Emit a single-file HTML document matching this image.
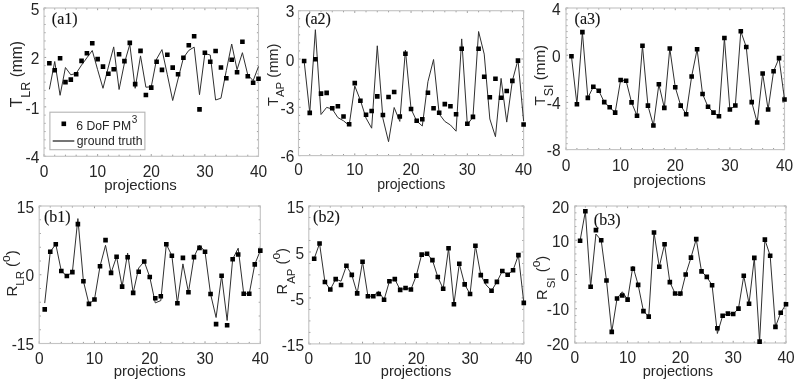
<!DOCTYPE html>
<html><head><meta charset="utf-8"><style>
html,body{margin:0;padding:0;background:#fff;}
svg{display:block;filter:grayscale(1) blur(0.35px);}
.t{font-family:"Liberation Sans", sans-serif;font-size:16px;fill:#262626;}
.y{font-family:"Liberation Sans", sans-serif;fill:#262626;}
.s{font-family:"Liberation Serif", serif;font-size:16px;fill:#111;stroke:#111;stroke-width:0.12px;}
.l{font-family:"Liberation Sans", sans-serif;font-size:12.2px;fill:#262626;}
</style></head><body>
<svg width="800" height="383" viewBox="0 0 800 383">
<rect width="800" height="383" fill="#fff"/>
<g id="a1"><path d="M44 156.3v-2.2M44 8v2.2M54.73 156.3v-1.6M54.73 8v1.6M65.45 156.3v-1.6M65.45 8v1.6M76.17 156.3v-1.6M76.17 8v1.6M86.9 156.3v-1.6M86.9 8v1.6M97.62 156.3v-2.2M97.62 8v2.2M108.35 156.3v-1.6M108.35 8v1.6M119.08 156.3v-1.6M119.08 8v1.6M129.8 156.3v-1.6M129.8 8v1.6M140.53 156.3v-1.6M140.53 8v1.6M151.25 156.3v-2.2M151.25 8v2.2M161.97 156.3v-1.6M161.97 8v1.6M172.7 156.3v-1.6M172.7 8v1.6M183.43 156.3v-1.6M183.43 8v1.6M194.15 156.3v-1.6M194.15 8v1.6M204.88 156.3v-2.2M204.88 8v2.2M215.6 156.3v-1.6M215.6 8v1.6M226.32 156.3v-1.6M226.32 8v1.6M237.05 156.3v-1.6M237.05 8v1.6M247.78 156.3v-1.6M247.78 8v1.6M258.5 156.3v-2.2M258.5 8v2.2M44 156.3h2.2M258.5 156.3h-2.2M44 148.06h1.6M258.5 148.06h-1.6M44 139.82h1.6M258.5 139.82h-1.6M44 131.58h1.6M258.5 131.58h-1.6M44 123.34h1.6M258.5 123.34h-1.6M44 115.11h1.6M258.5 115.11h-1.6M44 106.87h2.2M258.5 106.87h-2.2M44 98.63h1.6M258.5 98.63h-1.6M44 90.39h1.6M258.5 90.39h-1.6M44 82.15h1.6M258.5 82.15h-1.6M44 73.91h1.6M258.5 73.91h-1.6M44 65.67h1.6M258.5 65.67h-1.6M44 57.43h2.2M258.5 57.43h-2.2M44 49.19h1.6M258.5 49.19h-1.6M44 40.96h1.6M258.5 40.96h-1.6M44 32.72h1.6M258.5 32.72h-1.6M44 24.48h1.6M258.5 24.48h-1.6M44 16.24h1.6M258.5 16.24h-1.6M44 8h2.2M258.5 8h-2.2" stroke="#9a9a9a" stroke-width="1" fill="none"/>
<rect x="44" y="8" width="214.5" height="148.3" fill="none" stroke="#c4c4c4" stroke-width="1.15"/>
<polyline points="49.36,89.4 54.73,61.5 60.09,95.3 65.45,67.5 70.81,74.8 76.17,73.4 81.54,65.1 86.9,57.8 92.26,50.5 97.62,69.7 102.99,88.3 108.35,67 113.71,46.9 119.08,89.5 124.44,63 129.8,44.4 135.16,88.3 140.53,55.9 145.89,87.2 151.25,86.8 156.61,59 161.97,49.6 167.34,74.7 172.7,100.5 178.06,79 183.43,57.8 188.79,50.4 194.15,47.1 199.51,94.7 204.88,53.5 210.24,55 215.6,100 220.96,98.2 226.32,70.5 231.69,44 237.05,69.7 242.41,52.7 247.78,74.9 253.14,80.7 258.5,66.5" fill="none" stroke="#303030" stroke-width="1" stroke-linejoin="miter" stroke-miterlimit="10"/>
<path d="M47.06 61h4.6v4.6h-4.6zM52.43 68h4.6v4.6h-4.6zM57.79 55.9h4.6v4.6h-4.6zM63.15 79.8h4.6v4.6h-4.6zM68.51 77.3h4.6v4.6h-4.6zM73.88 72h4.6v4.6h-4.6zM79.24 58.6h4.6v4.6h-4.6zM84.6 51h4.6v4.6h-4.6zM89.96 40.9h4.6v4.6h-4.6zM95.33 56.8h4.6v4.6h-4.6zM100.69 64.3h4.6v4.6h-4.6zM106.05 71.4h4.6v4.6h-4.6zM111.41 66.9h4.6v4.6h-4.6zM116.78 51.9h4.6v4.6h-4.6zM122.14 58.8h4.6v4.6h-4.6zM127.5 40.6h4.6v4.6h-4.6zM132.86 81.8h4.6v4.6h-4.6zM138.22 48.6h4.6v4.6h-4.6zM143.59 92.7h4.6v4.6h-4.6zM148.95 85.3h4.6v4.6h-4.6zM154.31 59.4h4.6v4.6h-4.6zM159.67 67.6h4.6v4.6h-4.6zM165.04 52.5h4.6v4.6h-4.6zM170.4 65.3h4.6v4.6h-4.6zM175.76 71.9h4.6v4.6h-4.6zM181.12 55.5h4.6v4.6h-4.6zM186.49 42.9h4.6v4.6h-4.6zM191.85 33.9h4.6v4.6h-4.6zM197.21 107.1h4.6v4.6h-4.6zM202.57 50.4h4.6v4.6h-4.6zM207.94 59.5h4.6v4.6h-4.6zM213.3 48.7h4.6v4.6h-4.6zM218.66 65.2h4.6v4.6h-4.6zM224.02 75.9h4.6v4.6h-4.6zM229.39 57.4h4.6v4.6h-4.6zM234.75 70h4.6v4.6h-4.6zM240.11 39.4h4.6v4.6h-4.6zM245.47 73.9h4.6v4.6h-4.6zM250.84 80.4h4.6v4.6h-4.6zM256.2 76.5h4.6v4.6h-4.6z" fill="#000"/>
<text transform="translate(39.4 14.7) scale(0.97 1.02)" text-anchor="end" class="t">5</text>
<text transform="translate(39.4 64.13) scale(0.97 1.02)" text-anchor="end" class="t">2</text>
<text transform="translate(39.4 113.57) scale(0.97 1.02)" text-anchor="end" class="t">-1</text>
<text transform="translate(39.4 163) scale(0.97 1.02)" text-anchor="end" class="t">-4</text>
<text transform="translate(44 177) scale(0.97 1.02)" text-anchor="middle" class="t">0</text>
<text transform="translate(97.62 177) scale(0.97 1.02)" text-anchor="middle" class="t">10</text>
<text transform="translate(151.25 177) scale(0.97 1.02)" text-anchor="middle" class="t">20</text>
<text transform="translate(204.88 177) scale(0.97 1.02)" text-anchor="middle" class="t">30</text>
<text transform="translate(258.5 177) scale(0.97 1.02)" text-anchor="middle" class="t">40</text>
<text transform="translate(140.5 189.9) scale(0.97 1)" text-anchor="middle" class="t" style="font-size:15.5px">projections</text>
<text x="51.8" y="23.7" class="s">(a1)</text>
<text transform="translate(21.7 107.2) rotate(-90)" class="y" style="font-size:15.6px">T<tspan dy="7.9" style="font-size:12.5px">LR</tspan><tspan dy="-7.9"> (mm)</tspan></text></g>
<g id="a2"><path d="M298.5 155.6v-2.2M298.5 10.7v2.2M309.75 155.6v-1.6M309.75 10.7v1.6M321.01 155.6v-1.6M321.01 10.7v1.6M332.26 155.6v-1.6M332.26 10.7v1.6M343.52 155.6v-1.6M343.52 10.7v1.6M354.77 155.6v-2.2M354.77 10.7v2.2M366.03 155.6v-1.6M366.03 10.7v1.6M377.29 155.6v-1.6M377.29 10.7v1.6M388.54 155.6v-1.6M388.54 10.7v1.6M399.8 155.6v-1.6M399.8 10.7v1.6M411.05 155.6v-2.2M411.05 10.7v2.2M422.31 155.6v-1.6M422.31 10.7v1.6M433.56 155.6v-1.6M433.56 10.7v1.6M444.81 155.6v-1.6M444.81 10.7v1.6M456.07 155.6v-1.6M456.07 10.7v1.6M467.33 155.6v-2.2M467.33 10.7v2.2M478.58 155.6v-1.6M478.58 10.7v1.6M489.84 155.6v-1.6M489.84 10.7v1.6M501.09 155.6v-1.6M501.09 10.7v1.6M512.35 155.6v-1.6M512.35 10.7v1.6M523.6 155.6v-2.2M523.6 10.7v2.2M298.5 155.6h2.2M523.6 155.6h-2.2M298.5 147.55h1.6M523.6 147.55h-1.6M298.5 139.5h1.6M523.6 139.5h-1.6M298.5 131.45h1.6M523.6 131.45h-1.6M298.5 123.4h1.6M523.6 123.4h-1.6M298.5 115.35h1.6M523.6 115.35h-1.6M298.5 107.3h2.2M523.6 107.3h-2.2M298.5 99.25h1.6M523.6 99.25h-1.6M298.5 91.2h1.6M523.6 91.2h-1.6M298.5 83.15h1.6M523.6 83.15h-1.6M298.5 75.1h1.6M523.6 75.1h-1.6M298.5 67.05h1.6M523.6 67.05h-1.6M298.5 59h2.2M523.6 59h-2.2M298.5 50.95h1.6M523.6 50.95h-1.6M298.5 42.9h1.6M523.6 42.9h-1.6M298.5 34.85h1.6M523.6 34.85h-1.6M298.5 26.8h1.6M523.6 26.8h-1.6M298.5 18.75h1.6M523.6 18.75h-1.6M298.5 10.7h2.2M523.6 10.7h-2.2" stroke="#9a9a9a" stroke-width="1" fill="none"/>
<rect x="298.5" y="10.7" width="225.1" height="144.9" fill="none" stroke="#c4c4c4" stroke-width="1.15"/>
<polyline points="304.13,61 309.75,112.9 315.38,29.7 321.01,114.5 326.64,107.4 332.26,109 337.89,117.6 343.52,120.8 349.15,125.5 354.77,86 360.4,100.3 366.03,118.1 371.66,128.2 377.29,45.8 382.91,118.5 388.54,141.7 394.17,107.5 399.8,121.4 405.42,50.1 411.05,109 416.68,121 422.31,126 427.93,81.7 433.56,59.5 439.19,114 444.81,121.4 450.44,125 456.07,131.2 461.7,38.9 467.33,124.5 472.95,117.2 478.58,31.5 484.21,54.1 489.84,119 495.46,136.7 501.09,78.4 506.72,122.1 512.35,80.9 517.97,59.8 523.6,121" fill="none" stroke="#303030" stroke-width="1" stroke-linejoin="miter" stroke-miterlimit="10"/>
<path d="M301.83 58.7h4.6v4.6h-4.6zM307.45 110.6h4.6v4.6h-4.6zM313.08 56.9h4.6v4.6h-4.6zM318.71 91.3h4.6v4.6h-4.6zM324.34 90.6h4.6v4.6h-4.6zM329.96 105.9h4.6v4.6h-4.6zM335.59 104h4.6v4.6h-4.6zM341.22 114.2h4.6v4.6h-4.6zM346.85 121.9h4.6v4.6h-4.6zM352.47 80.8h4.6v4.6h-4.6zM358.1 98.4h4.6v4.6h-4.6zM363.73 112.4h4.6v4.6h-4.6zM369.36 108.7h4.6v4.6h-4.6zM374.99 94.1h4.6v4.6h-4.6zM380.61 112.7h4.6v4.6h-4.6zM386.24 94.7h4.6v4.6h-4.6zM391.87 89.7h4.6v4.6h-4.6zM397.5 114.2h4.6v4.6h-4.6zM403.12 51.5h4.6v4.6h-4.6zM408.75 106.7h4.6v4.6h-4.6zM414.38 118.4h4.6v4.6h-4.6zM420 116.9h4.6v4.6h-4.6zM425.63 90.5h4.6v4.6h-4.6zM431.26 105.9h4.6v4.6h-4.6zM436.89 110.4h4.6v4.6h-4.6zM442.51 101.8h4.6v4.6h-4.6zM448.14 103.9h4.6v4.6h-4.6zM453.77 112h4.6v4.6h-4.6zM459.4 46.5h4.6v4.6h-4.6zM465.03 121.4h4.6v4.6h-4.6zM470.65 114.6h4.6v4.6h-4.6zM476.28 46.5h4.6v4.6h-4.6zM481.91 74.5h4.6v4.6h-4.6zM487.54 95h4.6v4.6h-4.6zM493.16 76.5h4.6v4.6h-4.6zM498.79 95.5h4.6v4.6h-4.6zM504.42 88.7h4.6v4.6h-4.6zM510.05 78.6h4.6v4.6h-4.6zM515.67 58.3h4.6v4.6h-4.6zM521.3 122.2h4.6v4.6h-4.6z" fill="#000"/>
<text transform="translate(294.4 17.4) scale(0.97 1.02)" text-anchor="end" class="t">3</text>
<text transform="translate(294.4 65.7) scale(0.97 1.02)" text-anchor="end" class="t">0</text>
<text transform="translate(294.4 114) scale(0.97 1.02)" text-anchor="end" class="t">-3</text>
<text transform="translate(294.4 162.3) scale(0.97 1.02)" text-anchor="end" class="t">-6</text>
<text transform="translate(298.5 175.4) scale(0.97 1.02)" text-anchor="middle" class="t">0</text>
<text transform="translate(354.77 175.4) scale(0.97 1.02)" text-anchor="middle" class="t">10</text>
<text transform="translate(411.05 175.4) scale(0.97 1.02)" text-anchor="middle" class="t">20</text>
<text transform="translate(467.33 175.4) scale(0.97 1.02)" text-anchor="middle" class="t">30</text>
<text transform="translate(523.6 175.4) scale(0.97 1.02)" text-anchor="middle" class="t">40</text>
<text transform="translate(411.3 189.3) scale(0.91 1)" text-anchor="middle" class="t" style="font-size:15.5px">projections</text>
<text x="305.2" y="24" class="s">(a2)</text>
<text transform="translate(277.7 106) rotate(-90)" class="y" style="font-size:14.6px">T<tspan dy="6.5" style="font-size:11.5px">AP</tspan><tspan dy="-6.5"> (mm)</tspan></text></g>
<g id="a3"><path d="M566 149.6v-2.2M566 8v2.2M576.92 149.6v-1.6M576.92 8v1.6M587.85 149.6v-1.6M587.85 8v1.6M598.77 149.6v-1.6M598.77 8v1.6M609.7 149.6v-1.6M609.7 8v1.6M620.62 149.6v-2.2M620.62 8v2.2M631.55 149.6v-1.6M631.55 8v1.6M642.48 149.6v-1.6M642.48 8v1.6M653.4 149.6v-1.6M653.4 8v1.6M664.33 149.6v-1.6M664.33 8v1.6M675.25 149.6v-2.2M675.25 8v2.2M686.17 149.6v-1.6M686.17 8v1.6M697.1 149.6v-1.6M697.1 8v1.6M708.02 149.6v-1.6M708.02 8v1.6M718.95 149.6v-1.6M718.95 8v1.6M729.88 149.6v-2.2M729.88 8v2.2M740.8 149.6v-1.6M740.8 8v1.6M751.73 149.6v-1.6M751.73 8v1.6M762.65 149.6v-1.6M762.65 8v1.6M773.58 149.6v-1.6M773.58 8v1.6M784.5 149.6v-2.2M784.5 8v2.2M566 149.6h2.2M784.5 149.6h-2.2M566 143.7h1.6M784.5 143.7h-1.6M566 137.8h1.6M784.5 137.8h-1.6M566 131.9h1.6M784.5 131.9h-1.6M566 126h1.6M784.5 126h-1.6M566 120.1h1.6M784.5 120.1h-1.6M566 114.2h1.6M784.5 114.2h-1.6M566 108.3h1.6M784.5 108.3h-1.6M566 102.4h2.2M784.5 102.4h-2.2M566 96.5h1.6M784.5 96.5h-1.6M566 90.6h1.6M784.5 90.6h-1.6M566 84.7h1.6M784.5 84.7h-1.6M566 78.8h1.6M784.5 78.8h-1.6M566 72.9h1.6M784.5 72.9h-1.6M566 67h1.6M784.5 67h-1.6M566 61.1h1.6M784.5 61.1h-1.6M566 55.2h2.2M784.5 55.2h-2.2M566 49.3h1.6M784.5 49.3h-1.6M566 43.4h1.6M784.5 43.4h-1.6M566 37.5h1.6M784.5 37.5h-1.6M566 31.6h1.6M784.5 31.6h-1.6M566 25.7h1.6M784.5 25.7h-1.6M566 19.8h1.6M784.5 19.8h-1.6M566 13.9h1.6M784.5 13.9h-1.6M566 8h2.2M784.5 8h-2.2" stroke="#9a9a9a" stroke-width="1" fill="none"/>
<rect x="566" y="8" width="218.5" height="141.6" fill="none" stroke="#c4c4c4" stroke-width="1.15"/>
<polyline points="571.46,56.3 576.92,104.2 582.39,32.1 587.85,97.9 593.31,86.8 598.77,90.7 604.24,102.1 609.7,107.3 615.16,112.6 620.62,80 626.09,80.7 631.55,102.4 637.01,115.8 642.48,45.8 647.94,105.6 653.4,125.5 658.86,84.3 664.33,107.9 669.79,48.5 675.25,87.2 680.71,105.6 686.17,114.2 691.64,76.5 697.1,49.3 702.56,94 708.02,106.8 713.49,112.6 718.95,116.2 724.41,38 729.88,109.5 735.34,105.5 740.8,31.3 746.26,47 751.73,102.1 757.19,122.5 762.65,73.5 768.11,109.5 773.58,71.3 779.04,58.1 784.5,99.5" fill="none" stroke="#303030" stroke-width="1" stroke-linejoin="miter" stroke-miterlimit="10"/>
<path d="M569.16 54h4.6v4.6h-4.6zM574.62 101.9h4.6v4.6h-4.6zM580.09 29.8h4.6v4.6h-4.6zM585.55 95.6h4.6v4.6h-4.6zM591.01 84.5h4.6v4.6h-4.6zM596.48 88.4h4.6v4.6h-4.6zM601.94 99.8h4.6v4.6h-4.6zM607.4 105h4.6v4.6h-4.6zM612.86 110.3h4.6v4.6h-4.6zM618.33 77.7h4.6v4.6h-4.6zM623.79 78.4h4.6v4.6h-4.6zM629.25 100.1h4.6v4.6h-4.6zM634.71 113.5h4.6v4.6h-4.6zM640.18 43.5h4.6v4.6h-4.6zM645.64 103.3h4.6v4.6h-4.6zM651.1 123.2h4.6v4.6h-4.6zM656.56 82h4.6v4.6h-4.6zM662.03 105.6h4.6v4.6h-4.6zM667.49 46.2h4.6v4.6h-4.6zM672.95 84.9h4.6v4.6h-4.6zM678.41 103.3h4.6v4.6h-4.6zM683.88 111.9h4.6v4.6h-4.6zM689.34 74.2h4.6v4.6h-4.6zM694.8 47h4.6v4.6h-4.6zM700.26 91.7h4.6v4.6h-4.6zM705.73 104.5h4.6v4.6h-4.6zM711.19 110.3h4.6v4.6h-4.6zM716.65 113.9h4.6v4.6h-4.6zM722.11 35.7h4.6v4.6h-4.6zM727.58 107.2h4.6v4.6h-4.6zM733.04 103.2h4.6v4.6h-4.6zM738.5 29h4.6v4.6h-4.6zM743.96 44.7h4.6v4.6h-4.6zM749.43 99.8h4.6v4.6h-4.6zM754.89 120.2h4.6v4.6h-4.6zM760.35 71.2h4.6v4.6h-4.6zM765.81 107.2h4.6v4.6h-4.6zM771.28 69h4.6v4.6h-4.6zM776.74 55.8h4.6v4.6h-4.6zM782.2 97.2h4.6v4.6h-4.6z" fill="#000"/>
<text transform="translate(560.6 14.7) scale(0.97 1.02)" text-anchor="end" class="t">4</text>
<text transform="translate(560.6 61.9) scale(0.97 1.02)" text-anchor="end" class="t">0</text>
<text transform="translate(560.6 109.1) scale(0.97 1.02)" text-anchor="end" class="t">-4</text>
<text transform="translate(560.6 156.3) scale(0.97 1.02)" text-anchor="end" class="t">-8</text>
<text transform="translate(566 171.4) scale(0.97 1.02)" text-anchor="middle" class="t">0</text>
<text transform="translate(620.62 171.4) scale(0.97 1.02)" text-anchor="middle" class="t">10</text>
<text transform="translate(675.25 171.4) scale(0.97 1.02)" text-anchor="middle" class="t">20</text>
<text transform="translate(729.88 171.4) scale(0.97 1.02)" text-anchor="middle" class="t">30</text>
<text transform="translate(784.5 171.4) scale(0.97 1.02)" text-anchor="middle" class="t">40</text>
<text transform="translate(669.5 185.1) scale(0.97 1)" text-anchor="middle" class="t" style="font-size:15.5px">projections</text>
<text x="574.6" y="24.4" class="s">(a3)</text>
<text transform="translate(545 105.6) rotate(-90)" class="y" style="font-size:15.2px">T<tspan dy="8" style="font-size:12.5px">SI</tspan><tspan dy="-8"> (mm)</tspan></text></g>
<g id="b1"><path d="M39.2 343.5v-2.2M39.2 206v2.2M50.26 343.5v-1.6M50.26 206v1.6M61.31 343.5v-1.6M61.31 206v1.6M72.37 343.5v-1.6M72.37 206v1.6M83.42 343.5v-1.6M83.42 206v1.6M94.47 343.5v-2.2M94.47 206v2.2M105.53 343.5v-1.6M105.53 206v1.6M116.59 343.5v-1.6M116.59 206v1.6M127.64 343.5v-1.6M127.64 206v1.6M138.69 343.5v-1.6M138.69 206v1.6M149.75 343.5v-2.2M149.75 206v2.2M160.81 343.5v-1.6M160.81 206v1.6M171.86 343.5v-1.6M171.86 206v1.6M182.92 343.5v-1.6M182.92 206v1.6M193.97 343.5v-1.6M193.97 206v1.6M205.03 343.5v-2.2M205.03 206v2.2M216.08 343.5v-1.6M216.08 206v1.6M227.13 343.5v-1.6M227.13 206v1.6M238.19 343.5v-1.6M238.19 206v1.6M249.25 343.5v-1.6M249.25 206v1.6M260.3 343.5v-2.2M260.3 206v2.2M39.2 343.5h2.2M260.3 343.5h-2.2M39.2 329.75h1.6M260.3 329.75h-1.6M39.2 316h1.6M260.3 316h-1.6M39.2 302.25h1.6M260.3 302.25h-1.6M39.2 288.5h1.6M260.3 288.5h-1.6M39.2 274.75h2.2M260.3 274.75h-2.2M39.2 261h1.6M260.3 261h-1.6M39.2 247.25h1.6M260.3 247.25h-1.6M39.2 233.5h1.6M260.3 233.5h-1.6M39.2 219.75h1.6M260.3 219.75h-1.6M39.2 206h2.2M260.3 206h-2.2" stroke="#9a9a9a" stroke-width="1" fill="none"/>
<rect x="39.2" y="206" width="221.1" height="137.5" fill="none" stroke="#c4c4c4" stroke-width="1.15"/>
<polyline points="44.73,303.1 50.26,251.8 55.78,244.2 61.31,271 66.84,276 72.37,272.1 77.89,218.6 83.42,281.2 88.95,303.9 94.47,299.5 100,266.3 105.53,245.3 111.06,272.9 116.59,256.7 122.11,286.6 127.64,253.1 133.17,292.9 138.69,268 144.22,261.5 149.75,277 155.28,302.9 160.81,300.6 166.33,244.3 171.86,255.7 177.39,303.2 182.92,263.9 188.44,292.3 193.97,257.1 199.5,245.1 205.03,251.7 210.55,294 216.08,317.5 221.61,275.7 227.13,320.5 232.66,259.2 238.19,248.2 243.72,293.8 249.25,293.8 254.77,264.4 260.3,250.6" fill="none" stroke="#303030" stroke-width="1" stroke-linejoin="miter" stroke-miterlimit="10"/>
<path d="M42.43 307.1h4.6v4.6h-4.6zM47.96 249.5h4.6v4.6h-4.6zM53.48 241.9h4.6v4.6h-4.6zM59.01 268.7h4.6v4.6h-4.6zM64.54 273.7h4.6v4.6h-4.6zM70.07 269.8h4.6v4.6h-4.6zM75.59 221.8h4.6v4.6h-4.6zM81.12 278.9h4.6v4.6h-4.6zM86.65 301.6h4.6v4.6h-4.6zM92.17 297.2h4.6v4.6h-4.6zM97.7 264h4.6v4.6h-4.6zM103.23 237.8h4.6v4.6h-4.6zM108.76 270.6h4.6v4.6h-4.6zM114.29 254.4h4.6v4.6h-4.6zM119.81 284.3h4.6v4.6h-4.6zM125.34 255h4.6v4.6h-4.6zM130.87 290.6h4.6v4.6h-4.6zM136.39 269.5h4.6v4.6h-4.6zM141.92 259.2h4.6v4.6h-4.6zM147.45 274.7h4.6v4.6h-4.6zM152.98 295.9h4.6v4.6h-4.6zM158.5 293.9h4.6v4.6h-4.6zM164.03 242h4.6v4.6h-4.6zM169.56 253.4h4.6v4.6h-4.6zM175.09 300.9h4.6v4.6h-4.6zM180.62 255.6h4.6v4.6h-4.6zM186.14 290h4.6v4.6h-4.6zM191.67 254.8h4.6v4.6h-4.6zM197.2 245.6h4.6v4.6h-4.6zM202.73 249.4h4.6v4.6h-4.6zM208.25 291.7h4.6v4.6h-4.6zM213.78 321.8h4.6v4.6h-4.6zM219.31 273.4h4.6v4.6h-4.6zM224.83 322.9h4.6v4.6h-4.6zM230.36 256.9h4.6v4.6h-4.6zM235.89 252.2h4.6v4.6h-4.6zM241.42 291.5h4.6v4.6h-4.6zM246.94 291.5h4.6v4.6h-4.6zM252.47 262.1h4.6v4.6h-4.6zM258 248.3h4.6v4.6h-4.6z" fill="#000"/>
<text transform="translate(34.05 212.7) scale(0.97 1.02)" text-anchor="end" class="t">15</text>
<text transform="translate(34.05 281.45) scale(0.97 1.02)" text-anchor="end" class="t">0</text>
<text transform="translate(34.05 350.2) scale(0.97 1.02)" text-anchor="end" class="t">-15</text>
<text transform="translate(39.2 364.2) scale(0.97 1.02)" text-anchor="middle" class="t">0</text>
<text transform="translate(94.47 364.2) scale(0.97 1.02)" text-anchor="middle" class="t">10</text>
<text transform="translate(149.75 364.2) scale(0.97 1.02)" text-anchor="middle" class="t">20</text>
<text transform="translate(205.03 364.2) scale(0.97 1.02)" text-anchor="middle" class="t">30</text>
<text transform="translate(260.3 364.2) scale(0.97 1.02)" text-anchor="middle" class="t">40</text>
<text transform="translate(149.8 376.2) scale(0.96 1)" text-anchor="middle" class="t" style="font-size:15.5px">projections</text>
<text x="43.9" y="221.7" class="s">(b1)</text>
<text transform="translate(17.2 296.6) rotate(-90)" class="y" style="font-size:15px">R<tspan dx="0" dy="6.5" style="font-size:11.5px">LR</tspan><tspan dx="0" dy="-6.5"> (</tspan><tspan dy="-7.4" style="font-size:12px">o</tspan><tspan dy="7.4">)</tspan></text></g>
<g id="b2"><path d="M308.8 343.9v-2.2M308.8 206v2.2M319.55 343.9v-1.6M319.55 206v1.6M330.3 343.9v-1.6M330.3 206v1.6M341.05 343.9v-1.6M341.05 206v1.6M351.8 343.9v-1.6M351.8 206v1.6M362.55 343.9v-2.2M362.55 206v2.2M373.3 343.9v-1.6M373.3 206v1.6M384.05 343.9v-1.6M384.05 206v1.6M394.8 343.9v-1.6M394.8 206v1.6M405.55 343.9v-1.6M405.55 206v1.6M416.3 343.9v-2.2M416.3 206v2.2M427.05 343.9v-1.6M427.05 206v1.6M437.8 343.9v-1.6M437.8 206v1.6M448.55 343.9v-1.6M448.55 206v1.6M459.3 343.9v-1.6M459.3 206v1.6M470.05 343.9v-2.2M470.05 206v2.2M480.8 343.9v-1.6M480.8 206v1.6M491.55 343.9v-1.6M491.55 206v1.6M502.3 343.9v-1.6M502.3 206v1.6M513.05 343.9v-1.6M513.05 206v1.6M523.8 343.9v-2.2M523.8 206v2.2M308.8 343.9h2.2M523.8 343.9h-2.2M308.8 332.41h1.6M523.8 332.41h-1.6M308.8 320.92h1.6M523.8 320.92h-1.6M308.8 309.42h1.6M523.8 309.42h-1.6M308.8 297.93h2.2M523.8 297.93h-2.2M308.8 286.44h1.6M523.8 286.44h-1.6M308.8 274.95h1.6M523.8 274.95h-1.6M308.8 263.46h1.6M523.8 263.46h-1.6M308.8 251.97h2.2M523.8 251.97h-2.2M308.8 240.47h1.6M523.8 240.47h-1.6M308.8 228.98h1.6M523.8 228.98h-1.6M308.8 217.49h1.6M523.8 217.49h-1.6M308.8 206h2.2M523.8 206h-2.2" stroke="#9a9a9a" stroke-width="1" fill="none"/>
<rect x="308.8" y="206" width="215" height="137.9" fill="none" stroke="#c4c4c4" stroke-width="1.15"/>
<polyline points="314.18,258.7 319.55,243.5 324.93,282 330.3,289.5 335.68,279.1 341.05,281.2 346.43,265.8 351.8,274.9 357.18,293.4 362.55,261.7 367.93,296.2 373.3,296.2 378.67,291.2 384.05,299.8 389.42,281.3 394.8,279.1 400.17,289.9 405.55,288 410.92,289.5 416.3,275.6 421.67,254.6 427.05,253.8 432.42,260.1 437.8,277 443.17,288.8 448.55,248.3 453.92,304.2 459.3,263.7 464.67,284.4 470.05,294 475.42,245.7 480.8,275.1 486.17,285 491.55,290.7 496.92,281.9 502.3,271 507.67,274.7 513.05,270.3 518.42,255.1 523.8,302.9" fill="none" stroke="#303030" stroke-width="1" stroke-linejoin="miter" stroke-miterlimit="10"/>
<path d="M311.88 256.4h4.6v4.6h-4.6zM317.25 241.2h4.6v4.6h-4.6zM322.62 279.7h4.6v4.6h-4.6zM328 287.2h4.6v4.6h-4.6zM333.38 276.8h4.6v4.6h-4.6zM338.75 282.7h4.6v4.6h-4.6zM344.12 263.5h4.6v4.6h-4.6zM349.5 272.6h4.6v4.6h-4.6zM354.88 291.1h4.6v4.6h-4.6zM360.25 259.4h4.6v4.6h-4.6zM365.62 293.9h4.6v4.6h-4.6zM371 293.9h4.6v4.6h-4.6zM376.37 291.7h4.6v4.6h-4.6zM381.75 297.5h4.6v4.6h-4.6zM387.12 279h4.6v4.6h-4.6zM392.5 276.8h4.6v4.6h-4.6zM397.87 287.6h4.6v4.6h-4.6zM403.25 285.7h4.6v4.6h-4.6zM408.62 287.2h4.6v4.6h-4.6zM414 273.3h4.6v4.6h-4.6zM419.37 252.3h4.6v4.6h-4.6zM424.75 251.5h4.6v4.6h-4.6zM430.12 257.8h4.6v4.6h-4.6zM435.5 274.7h4.6v4.6h-4.6zM440.87 286.5h4.6v4.6h-4.6zM446.25 246h4.6v4.6h-4.6zM451.62 301.9h4.6v4.6h-4.6zM457 261.4h4.6v4.6h-4.6zM462.37 282.1h4.6v4.6h-4.6zM467.75 291.7h4.6v4.6h-4.6zM473.12 243.4h4.6v4.6h-4.6zM478.5 272.8h4.6v4.6h-4.6zM483.87 279h4.6v4.6h-4.6zM489.25 288.4h4.6v4.6h-4.6zM494.62 279.6h4.6v4.6h-4.6zM500 268.7h4.6v4.6h-4.6zM505.37 272.4h4.6v4.6h-4.6zM510.75 268h4.6v4.6h-4.6zM516.12 252.8h4.6v4.6h-4.6zM521.5 300.6h4.6v4.6h-4.6z" fill="#000"/>
<text transform="translate(304.05 212.7) scale(0.97 1.02)" text-anchor="end" class="t">15</text>
<text transform="translate(304.05 258.67) scale(0.97 1.02)" text-anchor="end" class="t">5</text>
<text transform="translate(304.05 304.63) scale(0.97 1.02)" text-anchor="end" class="t">-5</text>
<text transform="translate(304.05 350.6) scale(0.97 1.02)" text-anchor="end" class="t">-15</text>
<text transform="translate(308.8 363.6) scale(0.97 1.02)" text-anchor="middle" class="t">0</text>
<text transform="translate(362.55 363.6) scale(0.97 1.02)" text-anchor="middle" class="t">10</text>
<text transform="translate(416.3 363.6) scale(0.97 1.02)" text-anchor="middle" class="t">20</text>
<text transform="translate(470.05 363.6) scale(0.97 1.02)" text-anchor="middle" class="t">30</text>
<text transform="translate(523.8 363.6) scale(0.97 1.02)" text-anchor="middle" class="t">40</text>
<text transform="translate(416 375.9) scale(0.94 1)" text-anchor="middle" class="t" style="font-size:15.5px">projections</text>
<text x="313.1" y="221.7" class="s">(b2)</text>
<text transform="translate(287.4 294.4) rotate(-90)" class="y" style="font-size:14.6px">R<tspan dx="0" dy="7.2" style="font-size:11.5px">AP</tspan><tspan dx="0" dy="-7.2"> (</tspan><tspan dy="-7.4" style="font-size:12px">o</tspan><tspan dy="7.4">)</tspan></text></g>
<g id="b3"><path d="M574.8 343v-2.2M574.8 206v2.2M585.36 343v-1.6M585.36 206v1.6M595.92 343v-1.6M595.92 206v1.6M606.48 343v-1.6M606.48 206v1.6M617.04 343v-1.6M617.04 206v1.6M627.6 343v-2.2M627.6 206v2.2M638.16 343v-1.6M638.16 206v1.6M648.72 343v-1.6M648.72 206v1.6M659.28 343v-1.6M659.28 206v1.6M669.84 343v-1.6M669.84 206v1.6M680.4 343v-2.2M680.4 206v2.2M690.96 343v-1.6M690.96 206v1.6M701.52 343v-1.6M701.52 206v1.6M712.08 343v-1.6M712.08 206v1.6M722.64 343v-1.6M722.64 206v1.6M733.2 343v-2.2M733.2 206v2.2M743.76 343v-1.6M743.76 206v1.6M754.32 343v-1.6M754.32 206v1.6M764.88 343v-1.6M764.88 206v1.6M775.44 343v-1.6M775.44 206v1.6M786 343v-2.2M786 206v2.2M574.8 343h2.2M786 343h-2.2M574.8 336.15h1.6M786 336.15h-1.6M574.8 329.3h1.6M786 329.3h-1.6M574.8 322.45h1.6M786 322.45h-1.6M574.8 315.6h1.6M786 315.6h-1.6M574.8 308.75h2.2M786 308.75h-2.2M574.8 301.9h1.6M786 301.9h-1.6M574.8 295.05h1.6M786 295.05h-1.6M574.8 288.2h1.6M786 288.2h-1.6M574.8 281.35h1.6M786 281.35h-1.6M574.8 274.5h2.2M786 274.5h-2.2M574.8 267.65h1.6M786 267.65h-1.6M574.8 260.8h1.6M786 260.8h-1.6M574.8 253.95h1.6M786 253.95h-1.6M574.8 247.1h1.6M786 247.1h-1.6M574.8 240.25h2.2M786 240.25h-2.2M574.8 233.4h1.6M786 233.4h-1.6M574.8 226.55h1.6M786 226.55h-1.6M574.8 219.7h1.6M786 219.7h-1.6M574.8 212.85h1.6M786 212.85h-1.6M574.8 206h2.2M786 206h-2.2" stroke="#9a9a9a" stroke-width="1" fill="none"/>
<rect x="574.8" y="206" width="211.2" height="137" fill="none" stroke="#c4c4c4" stroke-width="1.15"/>
<polyline points="580.08,240.7 585.36,211.3 590.64,286.7 595.92,234 601.2,240.3 606.48,280.5 611.76,331.9 617.04,298.5 622.32,291.8 627.6,299.6 632.88,266.2 638.16,284.9 643.44,311.1 648.72,316.6 654,232.5 659.28,266.7 664.56,244.3 669.84,282.1 675.12,293.5 680.4,295.9 685.68,274.5 690.96,257.6 696.24,239.1 701.52,271.4 706.8,276.9 712.08,285.2 717.36,333.5 722.64,315.8 727.92,313.6 733.2,314 738.48,308.6 743.76,275.8 749.04,303.7 754.32,257.9 759.6,341.6 764.88,239.6 770.16,255.7 775.44,326.9 780.72,312.7 786,304.3" fill="none" stroke="#303030" stroke-width="1" stroke-linejoin="miter" stroke-miterlimit="10"/>
<path d="M577.78 238.4h4.6v4.6h-4.6zM583.06 209h4.6v4.6h-4.6zM588.34 284.4h4.6v4.6h-4.6zM593.62 227.8h4.6v4.6h-4.6zM598.9 238h4.6v4.6h-4.6zM604.18 278.2h4.6v4.6h-4.6zM609.46 329.6h4.6v4.6h-4.6zM614.74 296.2h4.6v4.6h-4.6zM620.02 293.2h4.6v4.6h-4.6zM625.3 297.3h4.6v4.6h-4.6zM630.58 266.4h4.6v4.6h-4.6zM635.86 282.6h4.6v4.6h-4.6zM641.14 308.8h4.6v4.6h-4.6zM646.42 314.3h4.6v4.6h-4.6zM651.7 230.2h4.6v4.6h-4.6zM656.98 264.4h4.6v4.6h-4.6zM662.26 242h4.6v4.6h-4.6zM667.54 279.8h4.6v4.6h-4.6zM672.82 291.2h4.6v4.6h-4.6zM678.1 291.2h4.6v4.6h-4.6zM683.38 272.2h4.6v4.6h-4.6zM688.66 255.3h4.6v4.6h-4.6zM693.94 236.8h4.6v4.6h-4.6zM699.22 269.1h4.6v4.6h-4.6zM704.5 274.6h4.6v4.6h-4.6zM709.78 282.9h4.6v4.6h-4.6zM715.06 326h4.6v4.6h-4.6zM720.34 313.5h4.6v4.6h-4.6zM725.62 311.3h4.6v4.6h-4.6zM730.9 311.7h4.6v4.6h-4.6zM736.18 306.3h4.6v4.6h-4.6zM741.46 273.5h4.6v4.6h-4.6zM746.74 301.4h4.6v4.6h-4.6zM752.02 255.6h4.6v4.6h-4.6zM757.3 339.3h4.6v4.6h-4.6zM762.58 237.3h4.6v4.6h-4.6zM767.86 253.4h4.6v4.6h-4.6zM773.14 324.6h4.6v4.6h-4.6zM778.42 310.4h4.6v4.6h-4.6zM783.7 302h4.6v4.6h-4.6z" fill="#000"/>
<text transform="translate(569.25 212.7) scale(0.97 1.02)" text-anchor="end" class="t">20</text>
<text transform="translate(569.25 246.95) scale(0.97 1.02)" text-anchor="end" class="t">10</text>
<text transform="translate(569.25 281.2) scale(0.97 1.02)" text-anchor="end" class="t">0</text>
<text transform="translate(569.25 315.45) scale(0.97 1.02)" text-anchor="end" class="t">-10</text>
<text transform="translate(569.25 349.7) scale(0.97 1.02)" text-anchor="end" class="t">-20</text>
<text transform="translate(574.8 363.2) scale(0.97 1.02)" text-anchor="middle" class="t">0</text>
<text transform="translate(627.6 363.2) scale(0.97 1.02)" text-anchor="middle" class="t">10</text>
<text transform="translate(680.4 363.2) scale(0.97 1.02)" text-anchor="middle" class="t">20</text>
<text transform="translate(733.2 363.2) scale(0.97 1.02)" text-anchor="middle" class="t">30</text>
<text transform="translate(786 363.2) scale(0.97 1.02)" text-anchor="middle" class="t">40</text>
<text transform="translate(677.9 375.9) scale(0.94 1)" text-anchor="middle" class="t" style="font-size:15.5px">projections</text>
<text x="593.8" y="224.9" class="s">(b3)</text>
<text transform="translate(547.4 300.1) rotate(-90)" class="y" style="font-size:14.6px">R<tspan dx="1.2" dy="7.9" style="font-size:11.5px">SI</tspan><tspan dx="1.2" dy="-7.9"> (</tspan><tspan dy="-7.4" style="font-size:12px">o</tspan><tspan dy="7.4">)</tspan></text></g>
<g id="legend">
<rect x="49.9" y="112.2" width="95" height="37.5" fill="#fff" stroke="#b4b4b4" stroke-width="1.1"/>
<rect x="61.5" y="121.5" width="4.6" height="4.6" fill="#000"/>
<text x="76.3" y="130" class="l">6 DoF PM<tspan dx="0.6" dy="-7.2" style="font-size:10px">3</tspan></text>
<path d="M52.7 141H74.3" stroke="#2a2a2a" stroke-width="1.3"/>
<text x="76.8" y="145" class="l">ground truth</text>
</g>
</svg>
</body></html>
